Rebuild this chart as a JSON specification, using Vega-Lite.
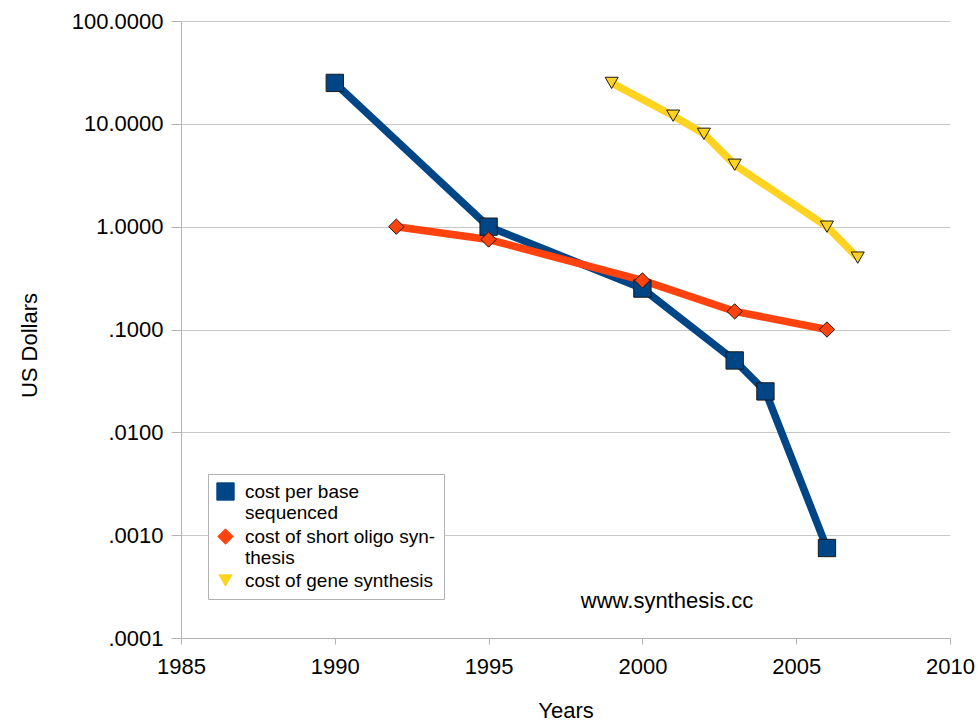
{
  "$schema": "https://vega.github.io/schema/vega-lite/v6.json",
  "width": 769,
  "height": 617,
  "autosize": {"type": "none"},
  "padding": {"left": 181, "top": 21, "right": 28, "bottom": 86},
  "background": "white",
  "config": {
    "font": "Liberation Sans",
    "view": {"stroke": null},
    "axis": {"labelFont": "Liberation Sans", "titleFont": "Liberation Sans", "labelColor": "#000", "titleColor": "#000", "titleFontWeight": "normal", "domainColor": "#b3b3b3", "tickColor": "#b3b3b3", "gridColor": "#c8c8c8"}
  },
  "datasets": {
    "costs": [
      {"series": "cost per base sequenced", "year": 1990, "cost": 25},
      {"series": "cost per base sequenced", "year": 1995, "cost": 1.0},
      {"series": "cost per base sequenced", "year": 2000, "cost": 0.25},
      {"series": "cost per base sequenced", "year": 2003, "cost": 0.05},
      {"series": "cost per base sequenced", "year": 2004, "cost": 0.025},
      {"series": "cost per base sequenced", "year": 2006, "cost": 0.00075},
      {"series": "cost of short oligo synthesis", "year": 1992, "cost": 1.0},
      {"series": "cost of short oligo synthesis", "year": 1995, "cost": 0.75},
      {"series": "cost of short oligo synthesis", "year": 2000, "cost": 0.3},
      {"series": "cost of short oligo synthesis", "year": 2003, "cost": 0.15},
      {"series": "cost of short oligo synthesis", "year": 2006, "cost": 0.1},
      {"series": "cost of gene synthesis", "year": 1999, "cost": 25},
      {"series": "cost of gene synthesis", "year": 2001, "cost": 12},
      {"series": "cost of gene synthesis", "year": 2002, "cost": 8},
      {"series": "cost of gene synthesis", "year": 2003, "cost": 4},
      {"series": "cost of gene synthesis", "year": 2006, "cost": 1.0},
      {"series": "cost of gene synthesis", "year": 2007, "cost": 0.5}
    ],
    "note": [
      {"label": "www.synthesis.cc", "year": 2000.8, "cost": 0.00023}
    ]
  },
  "layer": [
    {
      "data": {"name": "costs"},
      "mark": {"type": "line", "strokeWidth": 7.5, "strokeCap": "butt"},
      "encoding": {
        "x": {"field": "year", "type": "quantitative", "scale": {"domain": [1985, 2010], "nice": false, "zero": false},
              "axis": {"values": [1985, 1990, 1995, 2000, 2005, 2010], "format": "d", "grid": false, "labelFlush": false, "labelFontSize": 22, "labelPadding": 12, "tickSize": 6, "title": "Years", "titleFontSize": 22, "titleY": 62}},
        "y": {"field": "cost", "type": "quantitative", "scale": {"type": "log", "domain": [0.0001, 100], "nice": false},
              "axis": {"values": [0.0001, 0.001, 0.01, 0.1, 1, 10, 100], "labelExpr": "datum.value < 1 ? slice(format(datum.value, '.4f'), 1) : format(datum.value, '.4f')", "grid": true, "labelFlush": false, "labelFontSize": 22, "labelPadding": 8, "tickSize": 10, "title": "US Dollars", "titleFontSize": 22, "titleX": -140, "titleY": 324}},
        "color": {"field": "series", "type": "nominal",
                  "scale": {"domain": ["cost per base sequenced", "cost of short oligo synthesis", "cost of gene synthesis"], "range": ["#004586", "#ff420e", "#ffd320"]},
                  "legend": {"title": null, "orient": "none", "legendX": 27, "legendY": 453, "direction": "vertical",
                             "fillColor": "white", "strokeColor": "#b3b3b3", "padding": 8,
                             "labelFontSize": 19, "labelFont": "Liberation Sans", "labelColor": "#000", "labelLimit": 300,
                             "symbolSize": 120, "symbolStrokeColor": "#1a1a1a", "symbolStrokeWidth": 1, "rowPadding": 3, "labelOffset": 10,
                             "labelExpr": "datum.label == 'cost per base sequenced' ? ['cost per base', 'sequenced'] : datum.label == 'cost of short oligo synthesis' ? ['cost of short oligo syn-', 'thesis'] : datum.label"}},
        "order": {"field": "year"}
      }
    },
    {
      "data": {"name": "costs"},
      "mark": {"type": "point", "filled": true, "stroke": "#1a1a1a", "strokeWidth": 1, "opacity": 1},
      "encoding": {
        "x": {"field": "year", "type": "quantitative"},
        "y": {"field": "cost", "type": "quantitative"},
        "color": {"field": "series", "type": "nominal",
                  "scale": {"domain": ["cost per base sequenced", "cost of short oligo synthesis", "cost of gene synthesis"], "range": ["#004586", "#ff420e", "#ffd320"]}},
        "stroke": {"value": "#1a1a1a"},
        "shape": {"field": "series", "type": "nominal",
                  "scale": {"domain": ["cost per base sequenced", "cost of short oligo synthesis", "cost of gene synthesis"], "range": ["square", "diamond", "triangle-down"]}},
        "size": {"field": "series", "type": "nominal",
                 "scale": {"domain": ["cost per base sequenced", "cost of short oligo synthesis", "cost of gene synthesis"], "range": [300, 170, 220]},
                 "legend": null}
      }
    },
    {
      "data": {"name": "note"},
      "mark": {"type": "text", "fontSize": 22, "font": "Liberation Sans", "align": "center", "baseline": "middle", "color": "#000"},
      "encoding": {
        "x": {"field": "year", "type": "quantitative"},
        "y": {"field": "cost", "type": "quantitative"},
        "text": {"field": "label"}
      }
    }
  ]
}
